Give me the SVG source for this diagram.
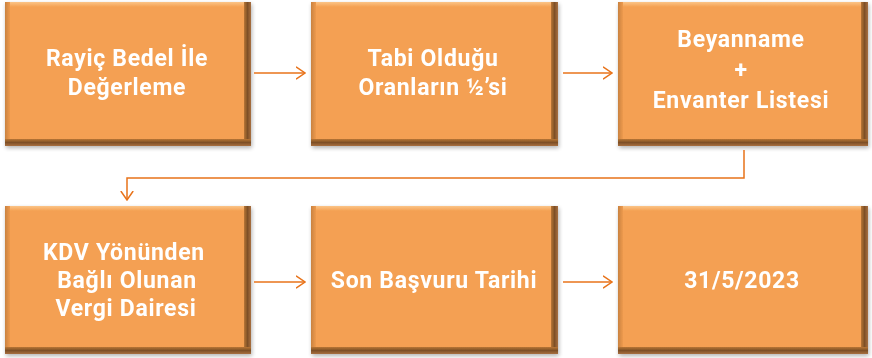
<svg xmlns="http://www.w3.org/2000/svg" width="872" height="358" viewBox="0 0 872 358">
<defs>
<linearGradient id="gR" x1="0" y1="0" x2="1" y2="0">
<stop offset="0" stop-color="#B87636"/>
<stop offset="0.5" stop-color="#7E5026"/>
<stop offset="1" stop-color="#A87040"/>
</linearGradient>
<linearGradient id="gB" x1="0" y1="0" x2="0" y2="1">
<stop offset="0" stop-color="#B87636"/>
<stop offset="0.5" stop-color="#7E5026"/>
<stop offset="1" stop-color="#A87040"/>
</linearGradient>
<linearGradient id="gL" x1="0" y1="0" x2="1" y2="0">
<stop offset="0" stop-color="#C98240"/>
<stop offset="1" stop-color="#EE9A4E"/>
</linearGradient>
<linearGradient id="gT" x1="0" y1="0" x2="0" y2="1">
<stop offset="0" stop-color="#FBC487"/>
<stop offset="1" stop-color="#F4A052"/>
</linearGradient>
<filter id="sh" x="-5%" y="-5%" width="110%" height="110%">
<feGaussianBlur in="SourceAlpha" stdDeviation="2"/>
<feOffset dx="1" dy="2"/>
<feComponentTransfer><feFuncA type="linear" slope="0.3"/></feComponentTransfer>
<feMerge><feMergeNode/><feMergeNode in="SourceGraphic"/></feMerge>
</filter>
<marker id="ah" viewBox="0 0 10 14" refX="9.5" refY="7" markerWidth="10" markerHeight="14" markerUnits="userSpaceOnUse" orient="auto">
<path d="M0.5,0.8 L9.5,7 L0.5,13.2" fill="none" stroke="#E8731A" stroke-width="1.5"/>
</marker>
</defs>
<style>
.box{fill:#F4A052}
.r{fill:url(#gR)}
.b{fill:url(#gB)}
.l{fill:url(#gL)}
.t{fill:url(#gT)}
.tx{font-family:Roboto,"Liberation Sans",sans-serif;font-weight:bold;font-size:23px;letter-spacing:0.7px;fill:#FFFFFF;text-anchor:middle}
.c{fill:none;stroke:#E8731A;stroke-width:1.5;marker-end:url(#ah)}
</style>
<rect width="872" height="358" fill="#FFFFFF"/>

<g id="n1" filter="url(#sh)">
<rect class="box" x="5" y="2" width="246" height="144"/>
<rect class="t" x="5" y="2" width="246" height="5"/>
<rect class="l" x="5" y="2" width="5" height="144"/>
<rect class="r" x="244" y="2" width="7" height="144"/>
<rect class="b" x="5" y="139" width="246" height="7"/>
<text class="tx" x="127" y="66">Rayiç Bedel İle</text>
<text class="tx" x="127" y="95">Değerleme</text>
</g>

<g id="n2" filter="url(#sh)">
<rect class="box" x="311" y="2" width="247" height="144"/>
<rect class="t" x="311" y="2" width="247" height="5"/>
<rect class="l" x="311" y="2" width="5" height="144"/>
<rect class="r" x="551" y="2" width="7" height="144"/>
<rect class="b" x="311" y="139" width="247" height="7"/>
<text class="tx" x="433" y="66">Tabi Olduğu</text>
<text class="tx" x="433" y="95">Oranların ½’si</text>
</g>

<g id="n3" filter="url(#sh)">
<rect class="box" x="618" y="2" width="250" height="144"/>
<rect class="t" x="618" y="2" width="250" height="5"/>
<rect class="l" x="618" y="2" width="5" height="144"/>
<rect class="r" x="861" y="2" width="7" height="144"/>
<rect class="b" x="618" y="139" width="250" height="7"/>
<text class="tx" x="741" y="47">Beyanname</text>
<text class="tx" x="741" y="78">+</text>
<text class="tx" x="741" y="108">Envanter Listesi</text>
</g>

<g id="n4" filter="url(#sh)">
<rect class="box" x="5" y="206" width="246" height="148"/>
<rect class="t" x="5" y="206" width="246" height="5"/>
<rect class="l" x="5" y="206" width="5" height="148"/>
<rect class="r" x="244" y="206" width="7" height="148"/>
<rect class="b" x="5" y="347" width="246" height="7"/>
<text class="tx" x="124" y="260">KDV Yönünden</text>
<text class="tx" x="127" y="288">Bağlı Olunan</text>
<text class="tx" x="126" y="316">Vergi Dairesi</text>
</g>

<g id="n5" filter="url(#sh)">
<rect class="box" x="311" y="206" width="247" height="148"/>
<rect class="t" x="311" y="206" width="247" height="5"/>
<rect class="l" x="311" y="206" width="5" height="148"/>
<rect class="r" x="551" y="206" width="7" height="148"/>
<rect class="b" x="311" y="347" width="247" height="7"/>
<text class="tx" x="434" y="288">Son Başvuru Tarihi</text>
</g>

<g id="n6" filter="url(#sh)">
<rect class="box" x="618" y="206" width="250" height="148"/>
<rect class="t" x="618" y="206" width="250" height="5"/>
<rect class="l" x="618" y="206" width="5" height="148"/>
<rect class="r" x="861" y="206" width="7" height="148"/>
<rect class="b" x="618" y="347" width="250" height="7"/>
<text class="tx" x="742" y="288">31/5/2023</text>
</g>

<g id="connectors">
<line class="c" x1="254" y1="73" x2="305" y2="73"/>
<line class="c" x1="563" y1="73" x2="612" y2="73"/>
<polyline class="c" points="744,150 744,178 127,178 127,200"/>
<line class="c" x1="254" y1="282" x2="305" y2="282"/>
<line class="c" x1="563" y1="282" x2="612" y2="282"/>
</g>
</svg>
